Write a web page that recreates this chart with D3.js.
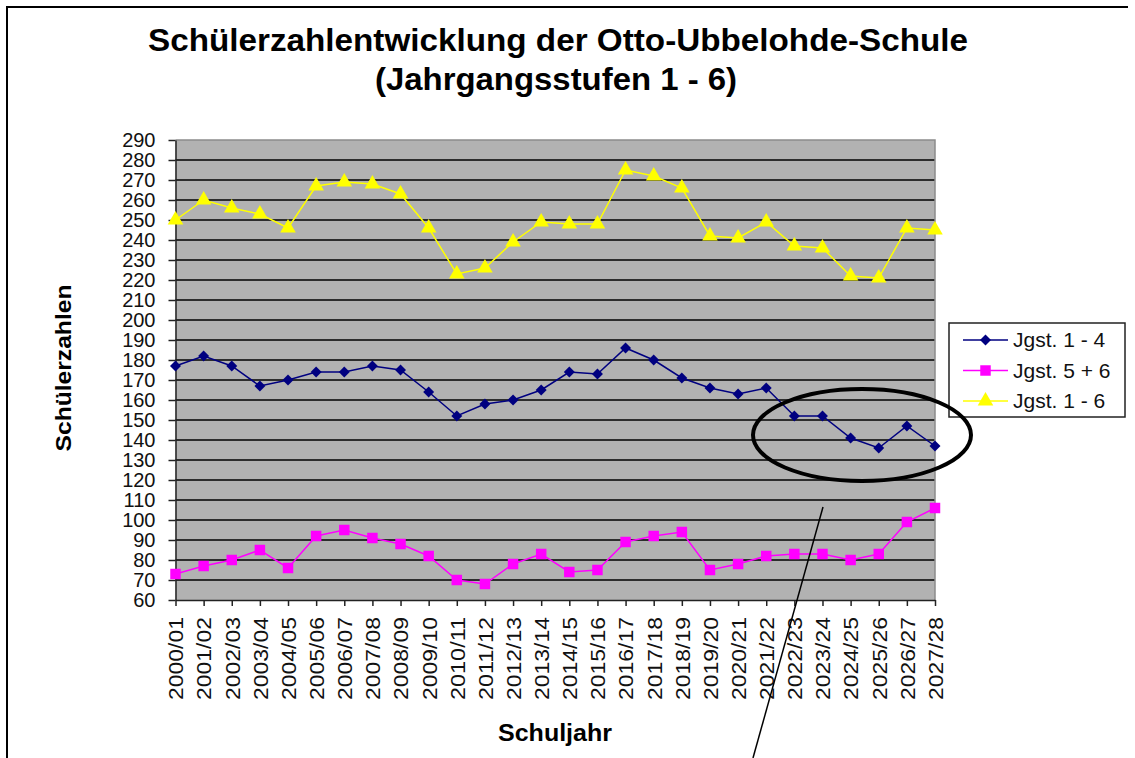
<!DOCTYPE html>
<html>
<head>
<meta charset="utf-8">
<script src="https://cdn.jsdelivr.net/npm/d3@7"></script>
<style>
  body { margin: 0; background: #fff; }
  svg { display: block; }
  text { font-family: Arial, "Liberation Sans", sans-serif; }
</style>
</head>
<body>
<svg id="chart" width="1135" height="758"></svg>
<script>
// school years (x categories)
var years = ['2000/01', '2001/02', '2002/03', '2003/04', '2004/05', '2005/06', '2006/07',
  '2007/08', '2008/09', '2009/10', '2010/11', '2011/12', '2012/13', '2013/14', '2014/15',
  '2015/16', '2016/17', '2017/18', '2018/19', '2019/20', '2020/21', '2021/22', '2022/23',
  '2023/24', '2024/25', '2025/26', '2026/27', '2027/28'];

// pupils per group
var jgst14 = [177, 182, 177, 167, 170, 174, 174, 177, 175, 164, 152, 158, 160, 165, 174,
  173, 186, 180, 171, 166, 163, 166, 152, 152, 141, 136, 147, 137];
var jgst56 = [73, 77, 80, 85, 76, 92, 95, 91, 88, 82, 70, 68, 78, 83, 74,
  75, 89, 92, 94, 75, 78, 82, 83, 83, 80, 83, 99, 106];
var jgst16 = [250, 260, 256, 253, 246, 267, 269, 268, 263, 246, 223, 226, 239, 249, 248,
  248, 275, 272, 266, 242, 241, 249, 237, 236, 222, 221, 246, 245];

var yTicks = d3.range(60, 291, 10);

var seriesNames = ['Jgst. 1 - 4', 'Jgst. 5 + 6', 'Jgst. 1 - 6'];
var seriesColors = ['#000080', '#ff00ff', '#ffff00'];
// the diamond is a square turned by 45 degrees, like Excel draws it
var seriesShapes = [d3.symbolSquare, d3.symbolSquare, d3.symbolTriangle];
var seriesSizes = [60, 110, 105];
var seriesRotate = [45, 0, 0];
var seriesData = [jgst14, jgst56, jgst16];

var svg = d3.select('#chart');

var plotLeft = 175.5, plotRight = 935, plotTop = 140, plotBottom = 600;

var x = d3.scalePoint().domain(years).range([plotLeft, plotRight]);
var y = d3.scaleLinear().domain([60, 290]).range([plotBottom, plotTop]);

// page frame
svg.append('path')
  .attr('d', 'M7,758 L7,7 L1128,7')
  .attr('fill', 'none')
  .attr('stroke', '#000')
  .attr('stroke-width', 2);

// fit a text to the width it has in the picture
function fitText(sel, w) {
  sel.attr('textLength', w).attr('lengthAdjust', 'spacingAndGlyphs');
  return sel;
}

// titles
fitText(svg.append('text')
  .attr('x', 558).attr('y', 51)
  .attr('text-anchor', 'middle')
  .attr('font-size', 31).attr('font-weight', 'bold')
  .text('Schülerzahlentwicklung der Otto-Ubbelohde-Schule'), 820);
fitText(svg.append('text')
  .attr('x', 556).attr('y', 90)
  .attr('text-anchor', 'middle')
  .attr('font-size', 31).attr('font-weight', 'bold')
  .text('(Jahrgangsstufen 1 - 6)'), 362);

// plot area
svg.append('rect')
  .attr('x', plotLeft).attr('y', plotTop)
  .attr('width', plotRight - plotLeft).attr('height', plotBottom - plotTop)
  .attr('fill', '#b2b2b2');

svg.append('g')
  .selectAll('line')
  .data(yTicks.filter(function (d) { return d > 60 && d < 290; }))
  .join('line')
  .attr('x1', plotLeft).attr('x2', plotRight)
  .attr('y1', function (d) { return y(d); })
  .attr('y2', function (d) { return y(d); })
  .attr('stroke', '#000')
  .attr('stroke-width', 1.6);

// top / right border of the plot area
svg.append('path')
  .attr('d', 'M' + plotLeft + ',' + plotTop + 'H' + plotRight + 'V' + plotBottom)
  .attr('fill', 'none')
  .attr('stroke', '#8c8c8c')
  .attr('stroke-width', 1.5);

// axes
var yAxis = svg.append('g')
  .attr('transform', 'translate(' + plotLeft + ',0)')
  .call(d3.axisLeft(y).tickValues(yTicks).tickSize(7).tickPadding(13).tickSizeOuter(0));
yAxis.select('.domain').attr('stroke', '#222').attr('stroke-width', 1.5);
yAxis.selectAll('.tick line').attr('stroke', '#222').attr('stroke-width', 1.5);
yAxis.selectAll('text')
  .attr('font-size', 20).attr('fill', '#111').attr('font-family', 'Arial, "Liberation Sans", sans-serif');

var xAxis = svg.append('g')
  .attr('transform', 'translate(0,' + plotBottom + ')')
  .call(d3.axisBottom(x).tickSize(6).tickSizeOuter(0));
xAxis.select('.domain').attr('stroke', '#222').attr('stroke-width', 1.5);
xAxis.selectAll('.tick line').attr('stroke', '#222').attr('stroke-width', 1.5);
xAxis.selectAll('text')
  .attr('font-size', 21).attr('fill', '#111').attr('font-family', 'Arial, "Liberation Sans", sans-serif')
  .attr('transform', 'rotate(-90)')
  .attr('text-anchor', 'end')
  .attr('x', -17).attr('y', 0).attr('dy', '0.35em')
  .attr('textLength', 83).attr('lengthAdjust', 'spacingAndGlyphs');

// axis titles
fitText(svg.append('text')
  .attr('transform', 'translate(71,368) rotate(-90)')
  .attr('text-anchor', 'middle')
  .attr('font-size', 22).attr('font-weight', 'bold')
  .text('Schülerzahlen'), 167);
fitText(svg.append('text')
  .attr('x', 555).attr('y', 741)
  .attr('text-anchor', 'middle')
  .attr('font-size', 23).attr('font-weight', 'bold')
  .text('Schuljahr'), 114);

// series lines + markers
var line = d3.line()
  .x(function (d, i) { return x(years[i]); })
  .y(function (d) { return y(d); });

[2, 0, 1].forEach(function (s) {
  var g = svg.append('g');
  g.append('path')
    .attr('d', line(seriesData[s]))
    .attr('fill', 'none')
    .attr('stroke', seriesColors[s])
    .attr('stroke-width', 1.5);
  g.selectAll('path.m')
    .data(seriesData[s])
    .join('path')
    .attr('class', 'm')
    .attr('transform', function (d, i) {
      return 'translate(' + x(years[i]) + ',' + y(d) + ') rotate(' + seriesRotate[s] + ')';
    })
    .attr('d', d3.symbol().type(seriesShapes[s]).size(seriesSizes[s]))
    .attr('fill', seriesColors[s]);
});

// legend
var legend = svg.append('g');
legend.append('rect')
  .attr('x', 949).attr('y', 323).attr('width', 176).attr('height', 94)
  .attr('fill', '#fff').attr('stroke', '#222').attr('stroke-width', 1.5);
seriesNames.forEach(function (name, i) {
  var ly = 340 + i * 30.5;
  legend.append('line')
    .attr('x1', 963).attr('x2', 1008).attr('y1', ly).attr('y2', ly)
    .attr('stroke', seriesColors[i]).attr('stroke-width', 1.5);
  legend.append('path')
    .attr('transform', 'translate(985.5,' + ly + ') rotate(' + seriesRotate[i] + ')')
    .attr('d', d3.symbol().type(seriesShapes[i]).size(seriesSizes[i]))
    .attr('fill', seriesColors[i]);
  legend.append('text')
    .attr('x', 1013).attr('y', ly).attr('dy', '0.35em')
    .attr('font-size', 21).attr('fill', '#111')
    .text(name);
});

// hand-drawn annotation: ellipse and pointer line
svg.append('ellipse')
  .attr('cx', 862).attr('cy', 435).attr('rx', 109).attr('ry', 46)
  .attr('fill', 'none').attr('stroke', '#000').attr('stroke-width', 4);
svg.append('line')
  .attr('x1', 823).attr('y1', 507).attr('x2', 753).attr('y2', 758)
  .attr('stroke', '#000').attr('stroke-width', 1.5);
</script>
</body>
</html>
